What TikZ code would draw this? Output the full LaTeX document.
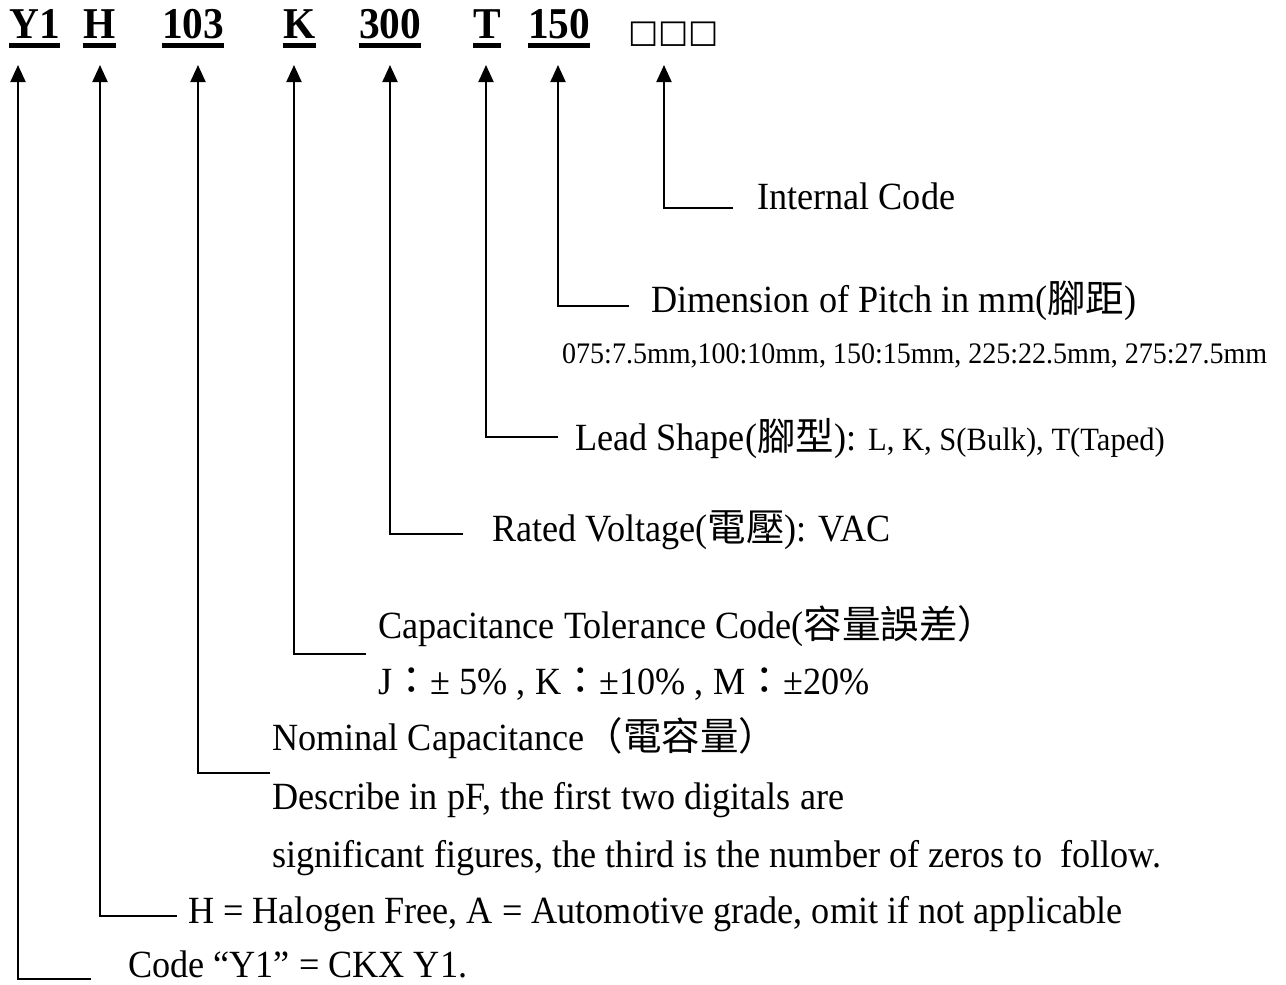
\documentclass[tikz,border=0pt]{standalone}
\usepackage{fontspec}
\setmainfont{Liberation Serif}[FakeStretch=0.94]
\newfontfamily\cjk{Noto Sans CJK TC}
\newfontfamily\symf{DejaVu Sans}
\usetikzlibrary{arrows.meta}
\begin{document}
\begin{tikzpicture}[x=1pt,y=-1pt,
  hdr/.style={anchor=base west,inner sep=0pt,font=\fontsize{44}{48}\selectfont\bfseries},
  txt/.style={anchor=base west,inner sep=0pt,font=\fontsize{38.5}{42}\selectfont},
  smalltxt/.style={anchor=base west,inner sep=0pt,font=\fontsize{29.8}{32}\selectfont},
  uline/.style={line width=4.5pt},
  conn/.style={line width=2pt,-{Triangle[length=17pt,width=15pt]}}]
\useasboundingbox[fill=white] (0,0) rectangle (1286,985);
% header codes
\node[hdr] (nY) at (9,38) {Y1};
\node[hdr] (nH) at (83,38) {H};
\node[hdr] (n103) at (162,38) {103};
\node[hdr] (nK) at (283,38) {K};
\node[hdr] (n300) at (359,38) {300};
\node[hdr] (nT) at (473,38) {T};
\node[hdr] (n150) at (528,38) {150};
\node[anchor=base west,inner sep=0pt,font=\fontsize{32}{34}\selectfont\symf] (nI) at (628,42) {□□□};
\foreach \n in {nY,nH,n103,nK,n300,nT,n150}
  \draw[uline] ([yshift=-7.5pt]\n.base west) -- ([yshift=-7.5pt]\n.base east);
% arrow tips and line ends
\coordinate (tY) at (18,65);   \coordinate (eY) at (91,979);
\coordinate (tH) at (100,65);  \coordinate (eH) at (177,916);
\coordinate (t103) at (198,65); \coordinate (e103) at (270,773);
\coordinate (tK) at (294,65);  \coordinate (eK) at (366,654);
\coordinate (t300) at (390,65); \coordinate (e300) at (463,534);
\coordinate (tT) at (486,65);  \coordinate (eT) at (558,437);
\coordinate (t150) at (558,65); \coordinate (e150) at (629,306);
\coordinate (tI) at (664,65);  \coordinate (eI) at (733,208);
\foreach \a in {Y,H,103,K,300,T,150,I}
  \draw[conn] (e\a) -| (t\a);
% descriptions
\node[txt] (dI) at (757,209) {Internal Code};
\node[txt] (d150) at (651,312) {Dimension of Pitch in mm({\cjk 腳距})};
\node[smalltxt] (d150b) at (562,363) {075:7.5mm,100:10mm, 150:15mm, 225:22.5mm, 275:27.5mm};
\node[txt] (dT) at (575,450) {Lead Shape({\cjk 腳型}): {\fontsize{32.5}{34}\selectfont L, K, S(Bulk), T(Taped)}};
\node[txt] (d300) at (492,541) {Rated Voltage({\cjk 電壓}): VAC};
\node[txt] (dK) at (378,638) {Capacitance Tolerance Code({\cjk 容量誤差）}};
\node[txt] (dKb) at (378,694) {J{\cjk ：}± 5\% , K{\cjk ：}±10\% , M{\cjk ：}±20\%};
\node[txt] (d103) at (272,750) {Nominal Capacitance{\cjk （電容量）}};
\node[txt] (d103b) at (272,809) {Describe in pF, the first two digitals are};
\node[txt] (d103c) at (272,867) {significant figures, the third is the number of zeros to\ \ follow.};
\node[txt] (dH) at (188,923) {H = Halogen Free, A = Automotive grade, omit if not applicable};
\node[txt] (dY) at (128,977) {Code “Y1” = CKX Y1.};
\end{tikzpicture}
\end{document}
